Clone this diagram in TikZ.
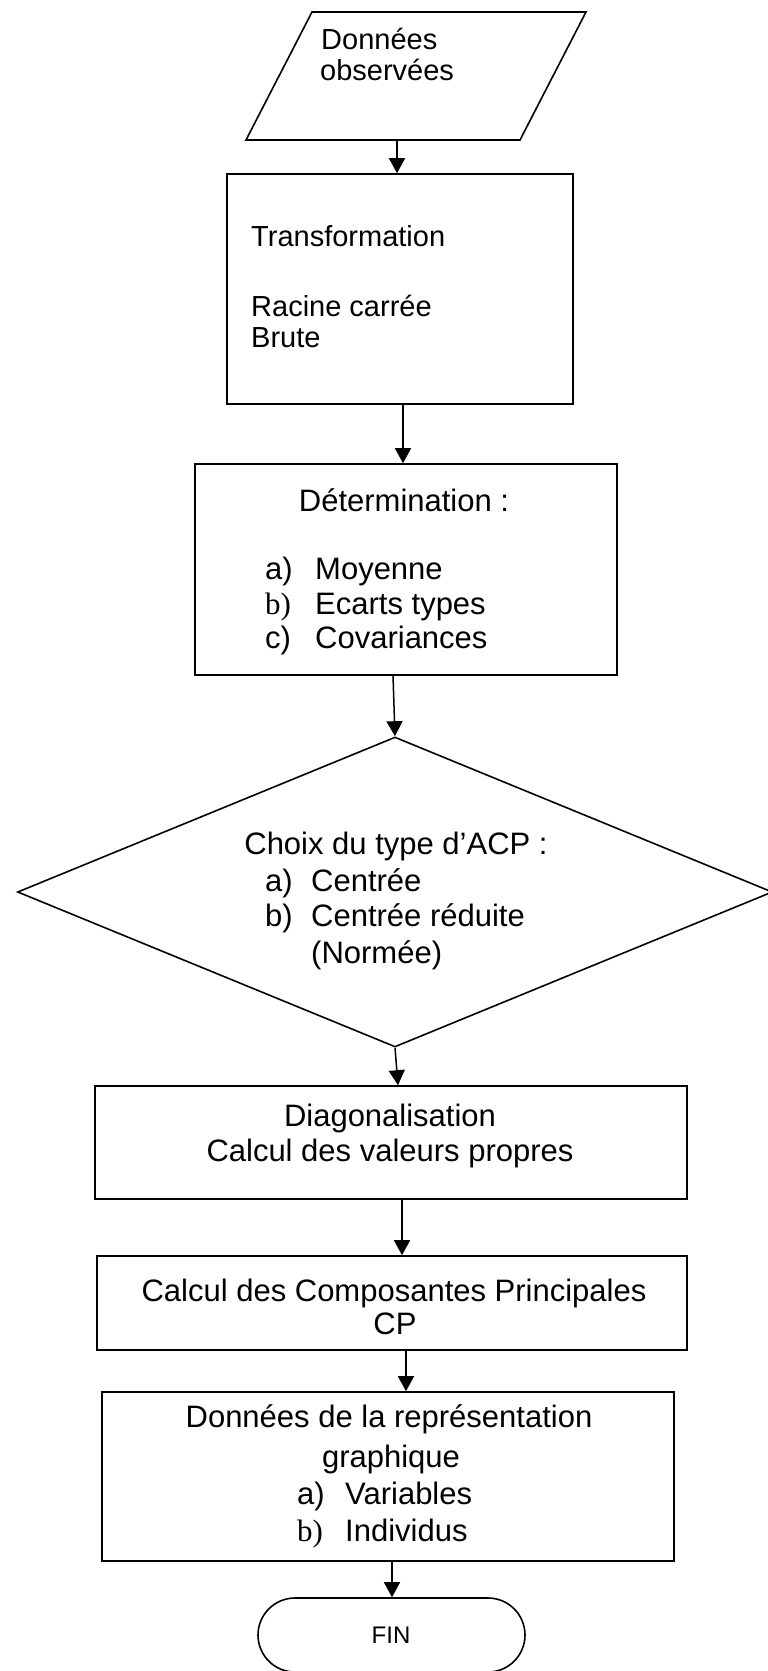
\documentclass[tikz,border=0pt]{standalone}
\usepackage{fontspec}
\setmainfont{Liberation Sans}
\newfontfamily\serifb{Liberation Serif}
\usetikzlibrary{arrows.meta,shapes.geometric,shapes.misc}
\begin{document}
\begin{tikzpicture}[x=1pt,y=-1pt,
  boxnode/.style={draw,line width=1.6pt,rectangle,inner sep=0pt},
  conn/.style={line width=1.5pt,-{Triangle[length=15pt,width=16pt]}},
  txt/.style={inner sep=0pt,anchor=base west,font=\fontsize{31}{36}\selectfont},
  ctxt/.style={inner sep=0pt,anchor=base,font=\fontsize{31}{36}\selectfont},
  stxt/.style={inner sep=0pt,anchor=base west,font=\fontsize{29}{34}\selectfont},
]
\useasboundingbox (0,0) rectangle (768,1671);
\fill[white] (0,0) rectangle (768,1671);

% columns for connectors
\coordinate (c0) at (397,0);
\coordinate (c1) at (403,0);
\coordinate (c2) at (393,0);
\coordinate (c3) at (398,0);
\coordinate (c4) at (402,0);
\coordinate (c5) at (406,0);
\coordinate (c6) at (392,0);

% parallelogram
\node[inner sep=0pt,minimum width=340pt,minimum height=128pt] (para) at (416,76) {};
\coordinate (pa) at (312,12);
\coordinate (pb) at (586,12);
\coordinate (pc) at (520,140);
\coordinate (pd) at (246,140);
\draw[line width=1.6pt,line join=miter] (pa) -- (pb) -- (pc) -- (pd) -- cycle;
\node[stxt] (p1) at (321,49) {Données};
\node[stxt] (p2) at (320,80) {observées};

% box 1
\node[boxnode,minimum width=346pt,minimum height=230pt] (b1) at (400,289) {};
\node[stxt] (b1a) at (251,246) {Transformation};
\node[stxt] (b1b) at (251,316) {Racine carrée};
\node[stxt] (b1c) at (251,347) {Brute};

% box 2
\node[boxnode,minimum width=422pt,minimum height=211pt] (b2) at (406,569.5) {};
\node[ctxt] (b2t) at (404,511) {Détermination :};
\node[txt] (b2a) at (265,579) {a)};
\node[txt] (b2ax) at (315,579) {Moyenne};
\node[txt] (b2b) at (265,614) {\serifb b)};
\node[txt] (b2bx) at (315,614) {Ecarts types};
\node[txt] (b2c) at (265,648) {c)};
\node[txt] (b2cx) at (315,648) {Covariances};

% diamond
\node[draw,line width=1.6pt,diamond,aspect=2.435,inner sep=0pt,minimum width=755pt,minimum height=310pt] (d) at (395,892) {};
\node[ctxt] (dt) at (396,854) {Choix du type d’ACP :};
\node[txt] (da) at (265,891) {a)};
\node[txt] (dax) at (311,891) {Centrée};
\node[txt] (db) at (265,926) {b)};
\node[txt] (dbx) at (311,926) {Centrée réduite};
\node[txt] (dcx) at (311,963) {(Normée)};

% box 3
\node[boxnode,minimum width=592pt,minimum height=113pt] (b3) at (391,1142.5) {};
\node[ctxt] (b3a) at (390,1126) {Diagonalisation};
\node[ctxt] (b3b) at (390,1161) {Calcul des valeurs propres};

% box 4
\node[boxnode,minimum width=590pt,minimum height=94pt] (b4) at (392,1303) {};
\node[ctxt] (b4a) at (394,1301) {Calcul des Composantes Principales};
\node[ctxt] (b4b) at (395,1334) {CP};

% box 5
\node[boxnode,minimum width=572pt,minimum height=169pt] (b5) at (388,1476.5) {};
\node[ctxt] (b5a) at (389,1427) {Données de la représentation};
\node[ctxt] (b5b) at (391,1467) {graphique};
\node[txt] (b5c) at (297,1504) {a)};
\node[txt] (b5cx) at (345,1504) {Variables};
\node[txt] (b5d) at (297,1541) {\serifb b)};
\node[txt] (b5dx) at (345,1541) {Individus};

% terminator
\node[draw,line width=1.6pt,rounded rectangle,inner sep=0pt,minimum width=267pt,minimum height=74pt] (fin) at (391.5,1635) {};
\node[inner sep=0pt,anchor=base,font=\fontsize{24}{28}\selectfont] (fint) at (391,1643) {FIN};

% connectors
\draw[conn] (para.south -| c0) -- (b1.north -| c0);
\draw[conn] (b1.south -| c1) -- (b2.north -| c1);
\draw[conn] (b2.south -| c2) -- (d.north);
\draw[conn] (d.south) -- (b3.north -| c3);
\draw[conn] (b3.south -| c4) -- (b4.north -| c4);
\draw[conn] (b4.south -| c5) -- (b5.north -| c5);
\draw[conn] (b5.south -| c6) -- (fin.north -| c6);
\end{tikzpicture}
\end{document}
